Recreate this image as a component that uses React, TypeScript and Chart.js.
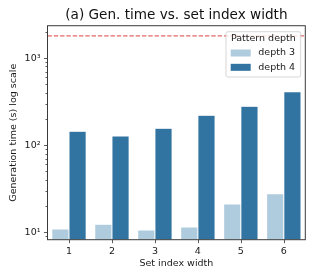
import React, { useEffect, useRef } from 'react';
import { Chart, registerables } from 'chart.js';

Chart.register(...registerables);

const categories = ['1', '2', '3', '4', '5', '6'];
const depth3Values = [10.9, 12.4, 10.6, 11.5, 21.1, 27.7];
const depth4Values = [144, 127, 156, 220, 279, 411];
const seriesLabels = ['depth 3', 'depth 4'];
const legendTitle = 'Pattern depth';
const timeoutSeconds = 1800;
const yTickValues = [9, 10, 20, 30, 40, 50, 60, 70, 80, 90, 100, 200, 300, 400, 500, 600, 700, 800, 900, 1000, 2000];
const yMajorLabels: Record<number, string> = { 10: '10¹', 100: '10²', 1000: '10³' };

const FONT = 'DejaVu Sans';
const COLORS = ['#afcbde', '#3274a1'];
const SMALL = 9.5;

const overlayPlugin = {
  id: 'overlay',
  afterDatasetsDraw(chart: any) {
    const { ctx, chartArea } = chart;
    const y = chart.scales.y.getPixelForValue(timeoutSeconds);
    ctx.save();
    ctx.beginPath();
    ctx.rect(chartArea.left, chartArea.top, chartArea.right - chartArea.left, chartArea.bottom - chartArea.top);
    ctx.clip();
    ctx.strokeStyle = 'rgba(214,39,40,0.7)';
    ctx.lineWidth = 1.2;
    ctx.setLineDash([4.4, 1.9]);
    ctx.beginPath();
    ctx.moveTo(chartArea.left, y);
    ctx.lineTo(chartArea.right, y);
    ctx.stroke();
    ctx.restore();
  },
  afterDraw(chart: any) {
    const { ctx, chartArea } = chart;
    const ys = chart.scales.y;
    const xs = chart.scales.x;
    ctx.save();
    ctx.strokeStyle = '#333';
    ctx.lineWidth = 0.8;
    ys.ticks.forEach((t: any) => {
      const py = Math.round(ys.getPixelForValue(t.value)) + 0.5;
      const len = yMajorLabels[t.value] ? 3.5 : 2;
      ctx.beginPath();
      ctx.moveTo(chartArea.left - len, py);
      ctx.lineTo(chartArea.left, py);
      ctx.stroke();
    });
    xs.ticks.forEach((_t: any, i: number) => {
      const px = Math.round(xs.getPixelForTick(i)) + 0.5;
      ctx.beginPath();
      ctx.moveTo(px, chartArea.bottom);
      ctx.lineTo(px, chartArea.bottom + 3.5);
      ctx.stroke();
    });
    ctx.lineWidth = 1;
    ctx.strokeStyle = '#3a3a3a';
    ctx.strokeRect(chartArea.left, chartArea.top, chartArea.right - chartArea.left, chartArea.bottom - chartArea.top);
    // legend
    const bw = 74.7;
    const bh = 45.3;
    const bx = chartArea.right - 4.6 - bw;
    const by = chartArea.top + 6;
    const r = 2;
    ctx.beginPath();
    ctx.moveTo(bx + r, by);
    ctx.lineTo(bx + bw - r, by);
    ctx.quadraticCurveTo(bx + bw, by, bx + bw, by + r);
    ctx.lineTo(bx + bw, by + bh - r);
    ctx.quadraticCurveTo(bx + bw, by + bh, bx + bw - r, by + bh);
    ctx.lineTo(bx + r, by + bh);
    ctx.quadraticCurveTo(bx, by + bh, bx, by + bh - r);
    ctx.lineTo(bx, by + r);
    ctx.quadraticCurveTo(bx, by, bx + r, by);
    ctx.closePath();
    ctx.fillStyle = 'rgba(255,255,255,0.8)';
    ctx.fill();
    ctx.strokeStyle = '#cccccc';
    ctx.lineWidth = 0.8;
    ctx.stroke();
    ctx.fillStyle = '#1a1a1a';
    ctx.font = `${SMALL}px "${FONT}"`;
    ctx.textBaseline = 'middle';
    ctx.textAlign = 'center';
    ctx.fillText(legendTitle, bx + bw / 2, by + 7);
    ctx.textAlign = 'left';
    chart.data.datasets.forEach((ds: any, i: number) => {
      const cy = by + 21.3 + i * 14.3;
      ctx.fillStyle = ds.backgroundColor;
      ctx.fillRect(bx + 4.7, cy - 3.5, 20, 7);
      ctx.fillStyle = '#1a1a1a';
      ctx.fillText(ds.label, bx + 32.3, cy);
    });
    ctx.restore();
  },
};

export default function App() {
  const ref = useRef<HTMLCanvasElement>(null);
  useEffect(() => {
    if (!ref.current) return;
    const chart = new Chart(ref.current, {
      type: 'bar',
      data: {
        labels: categories,
        datasets: [
          {
            label: seriesLabels[0],
            data: depth3Values,
            backgroundColor: COLORS[0],
            borderColor: 'rgba(255,255,255,0.3)',
            borderWidth: 0.5,
            categoryPercentage: 0.8,
            barPercentage: 1.0,
          },
          {
            label: seriesLabels[1],
            data: depth4Values,
            backgroundColor: COLORS[1],
            borderColor: 'rgba(255,255,255,0.25)',
            borderWidth: 0.5,
            categoryPercentage: 0.8,
            barPercentage: 1.0,
          },
        ],
      },
      options: {
        animation: false,
        responsive: false,
        devicePixelRatio: 1,
        layout: { padding: { left: 0, right: 9.7, top: 0, bottom: 0 } },
        plugins: {
          legend: { display: false },
          tooltip: { enabled: false },
          title: {
            display: true,
            text: '(a) Gen. time vs. set index width',
            fullSize: false,
            color: '#111',
            font: { family: FONT, size: 13.6, weight: 'normal' },
            padding: { top: 7.15, bottom: 2.25 },
          },
        },
        scales: {
          x: {
            type: 'category',
            offset: true,
            afterFit: (s: any) => {
              s.height = 40.3;
            },
            grid: { display: true, drawOnChartArea: false, drawTicks: false, color: 'transparent' },
            border: { display: false },
            ticks: { color: '#1a1a1a', font: { family: FONT, size: SMALL }, padding: 6.5, maxRotation: 0 },
            title: {
              display: true,
              text: 'Set index width',
              color: '#1a1a1a',
              font: { family: FONT, size: SMALL },
              padding: { top: 0, bottom: 10.8 },
            },
          },
          y: {
            type: 'logarithmic',
            min: 8.22,
            max: 2350,
            afterFit: (s: any) => {
              s.width = 47.5;
            },
            afterBuildTicks: (s: any) => {
              s.ticks = yTickValues
                .filter((v) => v >= s.min && v <= s.max)
                .map((v) => ({ value: v, major: !!yMajorLabels[v] }));
            },
            grid: { display: true, drawOnChartArea: false, drawTicks: false, color: 'transparent' },
            border: { display: false },
            ticks: {
              autoSkip: false,
              color: '#1a1a1a',
              font: { family: FONT, size: SMALL },
              padding: 7,
              callback: (v: any) => yMajorLabels[Number(v)] || '',
            },
            title: {
              display: true,
              text: 'Generation time (s) log scale',
              color: '#1a1a1a',
              font: { family: FONT, size: SMALL },
              padding: { top: 8.3, bottom: 0 },
            },
          },
        },
      },
      plugins: [overlayPlugin],
    } as any);
    return () => chart.destroy();
  }, []);
  return (
    <div style={{ position: 'absolute', left: 0, top: 0, width: 315, height: 280, background: '#fff' }}>
      <canvas ref={ref} width={315} height={280} style={{ width: 315, height: 280 }} />
    </div>
  );
}
